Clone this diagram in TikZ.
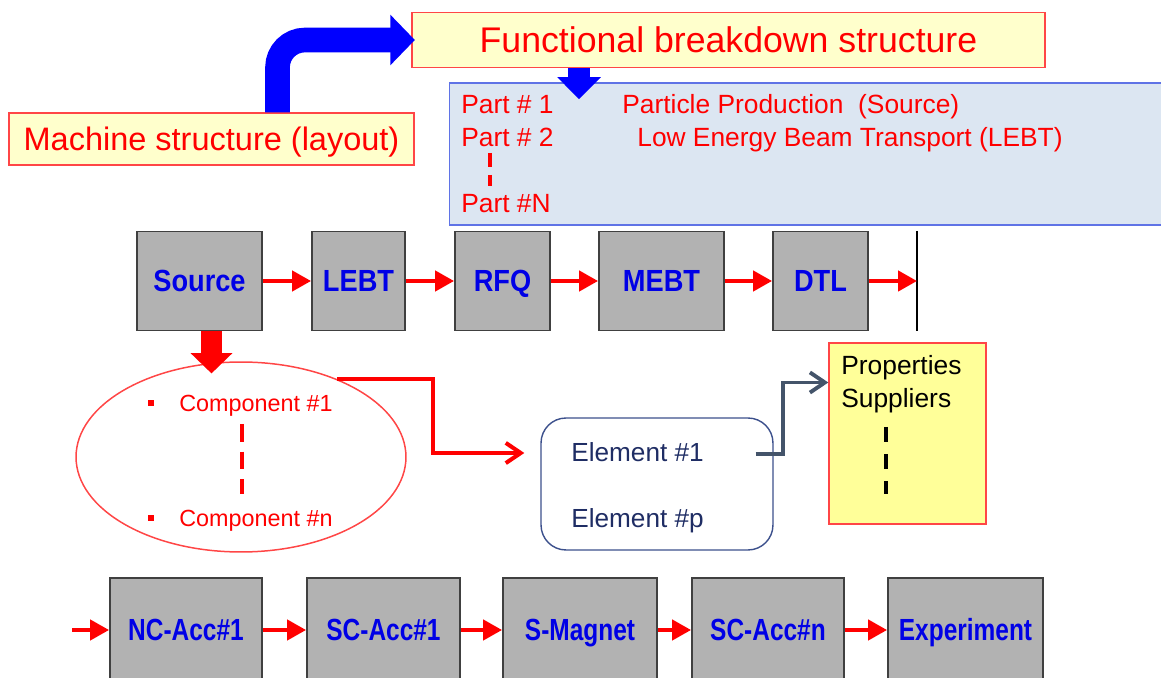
\documentclass[tikz,border=0pt]{standalone}
\usepackage{fontspec}
\setmainfont{Liberation Sans}
\newfontfamily\blockfont[FakeStretch=0.89]{Liberation Sans}
\newfontfamily\lowblockfont[FakeStretch=0.8]{Liberation Sans}
\usetikzlibrary{arrows.meta,shapes.geometric,positioning}
\definecolor{framered}{RGB}{255,70,70}
\definecolor{labelred}{RGB}{255,0,0}
\definecolor{notefill}{RGB}{255,255,204}
\definecolor{notefilldeep}{RGB}{255,255,153}
\definecolor{partfill}{RGB}{220,230,242}
\definecolor{partframe}{RGB}{95,115,230}
\definecolor{blockgray}{RGB}{178,178,178}
\definecolor{blockframe}{RGB}{64,64,64}
\definecolor{blocktext}{RGB}{0,0,230}
\definecolor{beamblue}{RGB}{0,0,255}
\definecolor{elemframe}{RGB}{60,80,140}
\definecolor{elemtext}{RGB}{31,45,100}
\definecolor{linkgray}{RGB}{68,84,106}
\tikzset{
    % boxes
    notebox/.style={
        draw=framered, fill=notefill, line width=0.8pt,
        inner sep=0pt, text=labelred
    },
    partbox/.style={draw=partframe, fill=partfill, line width=0.8pt, inner sep=0pt},
    block/.style={
        draw=blockframe, fill=blockgray, line width=1.1pt,
        inner sep=0pt, text=blocktext,
        text height=12.45pt, text depth=0pt
    },
    rowblock/.style={block, minimum height=1.98cm,
        font={\blockfont\bfseries\fontsize{17.4}{20}\selectfont}},
    lowblock/.style={block, minimum height=2.08cm,
        font={\lowblockfont\bfseries\fontsize{17.4}{20}\selectfont}},
    compellipse/.style={ellipse, draw=framered, line width=0.85pt, inner sep=0pt},
    elembox/.style={draw=elemframe, line width=0.8pt, rounded corners=0.5cm, inner sep=0pt},
    % texts
    parttext/.style={
        anchor=west, inner sep=0pt, text=labelred,
        font=\fontsize{15}{18}\selectfont, text height=10.7pt, text depth=0pt
    },
    comptext/.style={parttext, font=\fontsize{13.3}{16}\selectfont, text height=9.5pt},
    elemtext/.style={parttext, text=elemtext, font=\fontsize{14.9}{18}\selectfont},
    proptext/.style={parttext, text=black},
    bulletmark/.style={fill=labelred, minimum size=0.13cm, inner sep=0pt},
    % connectors
    flow/.style={labelred, line width=2.2pt, -{Triangle[length=10.8pt,width=11.5pt]}},
    bigarrow/.style={beamblue, line width=14pt, rounded corners=0.55cm,
        -{Triangle[length=14pt,width=28pt]}},
    smallarrow/.style={beamblue, line width=12pt, -{Triangle[length=12.5pt,width=24pt]}},
    fatarrow/.style={labelred, line width=12pt, -{Triangle[length=11.5pt,width=23pt]}},
    redlink/.style={labelred, line width=2.3pt, -{Straight Barb[length=8.5pt,width=11.5pt]}},
    graylink/.style={linkgray, line width=2.2pt, -{Straight Barb[length=8.5pt,width=11.5pt]}},
    reddash/.style={labelred, line width=2pt, dash pattern=on 8pt off 4.5pt},
    blackdash/.style={black, line width=2.2pt, dash pattern=on 8.5pt off 7pt},
    endbar/.style={black, line width=0.9pt}
}
\begin{document}
\begin{tikzpicture}[x=0.02cm, y=-0.02cm]
  \useasboundingbox (0,0) rectangle (1161,678);
  \clip (0,0) rectangle (1161,678);

  % functional breakdown
  \node[partbox, minimum width=14.5cm, minimum height=2.84cm] (parts) at (812,154) {};
  \node[notebox, minimum width=12.66cm, minimum height=1.1cm, text height=14.5pt, text depth=0pt,
        font=\fontsize{20.3}{24}\selectfont] (func) at (728.5,40) {Functional breakdown structure};
  \node[notebox, minimum width=8.1cm, minimum height=1.04cm, text height=13.25pt, text depth=0pt,
        font=\fontsize{18.5}{22}\selectfont] (machine) at (211.5,139) {Machine structure (layout)};
  \draw[bigarrow] ([xshift=1.32cm]machine.north) |- ([xshift=2pt]func.west);
  \draw[smallarrow] ([xshift=-2.99cm]func.south) -- ++(0,31);

  \node[parttext] (p1) at (461,104) {Part \# 1};
  \node[parttext] (p2) at (461,137) {Part \# 2};
  \node[parttext] (pn) at (461,203) {Part \#N};
  \node[parttext] (p1name) at (622,104) {Particle Production\ \ (Source)};
  \node[parttext] (p2name) at (637,137) {Low Energy Beam Transport (LEBT)};
  \draw[reddash] (490,153) -- (490,186);

  % machine layout, first row
  \node[rowblock, minimum width=2.5cm] (source) at (199.5,281) {Source};
  \node[rowblock, minimum width=1.86cm] (lebt) at (358.5,281) {LEBT};
  \node[rowblock, minimum width=1.9cm] (rfq) at (502.5,281) {RFQ};
  \node[rowblock, minimum width=2.5cm] (mebt) at (661.5,281) {MEBT};
  \node[rowblock, minimum width=1.9cm] (dtl) at (820.5,281) {DTL};
  \coordinate (bartop) at (917,231);
  \coordinate (barbot) at (917,331);
  \draw[endbar] (bartop) -- (barbot);
  \foreach \a/\b in {source/lebt, lebt/rfq, rfq/mebt, mebt/dtl}
    \draw[flow] (\a) -- (\b);
  \draw[flow] (dtl) -- (dtl -| bartop);

  % components of the source
  \node[compellipse, minimum width=6.6cm, minimum height=3.8cm] (comps) at (241,457) {};
  \draw[fatarrow] ([xshift=0.24cm]source.south) -- ++(0,42);
  \node[bulletmark] (b1) at (151,403) {};
  \node[bulletmark] (bn) at (151,518) {};
  \node[comptext] (c1) at (179,403) {Component \#1};
  \node[comptext] (cn) at (179,518) {Component \#n};
  \draw[reddash, line width=2.6pt, dash pattern=on 10pt off 5.7pt] (242,424) -- (242,494);

  % elements
  \node[elembox, minimum width=4.64cm, minimum height=2.64cm] (elem) at (657,484) {};
  \node[elemtext] (e1) at (571,452) {Element \#1};
  \node[elemtext] (ep) at (571,518) {Element \#p};
  \draw[redlink] (comps.39) -- ++(96,0) |- ([shift={(-16,-31)}]elem.west);

  % properties
  \node[notebox, fill=notefilldeep, minimum width=3.14cm, minimum height=3.62cm] (props) at (907.5,433.5) {};
  \node[proptext] (pr) at (841,365) {Properties};
  \node[proptext] (su) at (841,398) {Suppliers};
  \draw[blackdash] (886,427) -- (886,494);
  \draw[graylink] ([shift={(-18,-30)}]elem.east) -- ++(27,0) |- ([shift={(0,-51)}]props.west);

  % second row
  \node[lowblock, minimum width=3.04cm] (nc1) at (186,630) {NC-Acc\#1};
  \node[lowblock, minimum width=3.06cm] (sc1) at (383.5,630) {SC-Acc\#1};
  \node[lowblock, minimum width=3.08cm] (smag) at (580,630) {S-Magnet};
  \node[lowblock, minimum width=3.04cm] (scn) at (768,630) {SC-Acc\#n};
  \node[lowblock, minimum width=3.1cm] (exper) at (965.5,630) {Experiment};
  \coordinate (feed) at (72,630);
  \draw[flow] (feed) -- (nc1);
  \foreach \a/\b in {nc1/sc1, sc1/smag, smag/scn, scn/exper}
    \draw[flow] (\a) -- (\b);
\end{tikzpicture}
\end{document}
